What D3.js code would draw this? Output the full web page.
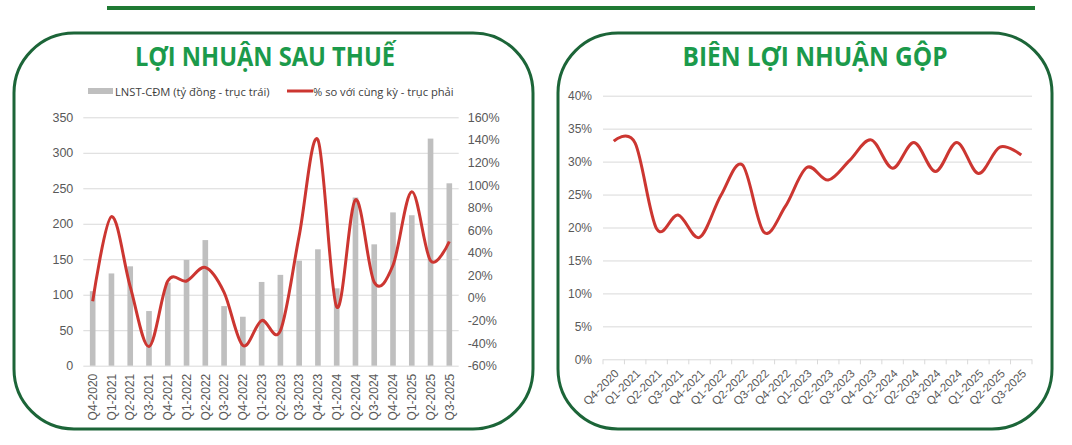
<!DOCTYPE html>
<html>
<head>
<meta charset="utf-8">
<script src="https://cdn.jsdelivr.net/npm/d3@7"></script>
<style>
  body { margin: 0; background: #fff; }
  svg { display: block; font-family: 'Open Sans', sans-serif; }
  .tick text { fill: #595959; font-size: 12px; }
</style>
</head>
<body>
<svg width="1072" height="445"></svg>
<script>
// quarters shown on both charts
const categories = ['Q4-2020', 'Q1-2021', 'Q2-2021', 'Q3-2021', 'Q4-2021', 'Q1-2022', 'Q2-2022',
  'Q3-2022', 'Q4-2022', 'Q1-2023', 'Q2-2023', 'Q3-2023', 'Q4-2023', 'Q1-2024', 'Q2-2024',
  'Q3-2024', 'Q4-2024', 'Q1-2025', 'Q2-2025', 'Q3-2025'];

// LNST-CĐM (tỷ đồng)
const profit = [105, 130, 140, 77, 117, 149, 177, 84, 69, 118, 128, 148, 164, 109, 237, 171, 216, 212, 320, 257];
// % so với cùng kỳ
const profitYoY = [-3, 72, 10, -43, 15, 15, 27, 5, -42, -20, -29, 55, 140, -8, 87, 14, 29, 94, 33, 50];
// biên lợi nhuận gộp (%)
const grossMargin = [33.1, 32.8, 19.8, 21.9, 18.5, 24.9, 29.5, 19.3, 23.2, 29.1, 27.2, 30.2, 33.3, 29.0, 32.9, 28.5, 32.9, 28.2, 32.2, 31.0];

const leftTicks = [0, 50, 100, 150, 200, 250, 300, 350];
const rightTicks = [-60, -40, -20, 0, 20, 40, 60, 80, 100, 120, 140, 160];
const marginTicks = [0, 5, 10, 15, 20, 25, 30, 35, 40];

const svg = d3.select('svg');
const green = '#1b9a4b';
const frameColor = '#1c6538';
const red = '#cc3631';

// top rule
svg.append('line')
  .attr('x1', 107).attr('x2', 1035)
  .attr('y1', 8).attr('y2', 8)
  .attr('stroke', '#1f7a33')
  .attr('stroke-width', 4);

// panel frames
const panels = [
  { x: 14, y: 33, w: 519, h: 396, title: 'LỢI NHUẬN SAU THUẾ', cx: 265, tw: 260 },
  { x: 558, y: 33, w: 494, h: 396, title: 'BIÊN LỢI NHUẬN GỘP', cx: 815, tw: 265 }
];
panels.forEach(p => {
  svg.append('rect')
    .attr('x', p.x).attr('y', p.y)
    .attr('width', p.w).attr('height', p.h)
    .attr('rx', 60).attr('ry', 60)
    .attr('fill', 'none')
    .attr('stroke', frameColor)
    .attr('stroke-width', 3);
  svg.append('text')
    .attr('x', p.cx)
    .attr('y', 66)
    .attr('text-anchor', 'middle')
    .attr('fill', green)
    .attr('font-size', 27.5)
    .attr('font-weight', 700)
    .attr('textLength', p.tw)
    .attr('lengthAdjust', 'spacingAndGlyphs')
    .text(p.title);
});

// ---------- left chart: profit bars + yoy line ----------
const lx0 = 83.3, lx1 = 458.7, ly0 = 365.7, ly1 = 117.3;

const xL = d3.scaleBand()
  .domain(categories)
  .range([lx0, lx1])
  .paddingInner(0.7)
  .paddingOuter(0.35);

const yL = d3.scaleLinear().domain([0, 350]).range([ly0, ly1]);
const yR = d3.scaleLinear().domain([-60, 160]).range([ly0, ly1]);

const gridL = svg.append('g')
  .attr('transform', `translate(${lx0},0)`)
  .call(d3.axisLeft(yL).tickValues(leftTicks).tickSize(-(lx1 - lx0)).tickPadding(10));
gridL.select('.domain').remove();
gridL.selectAll('.tick line').attr('stroke', '#d9d9d9');
gridL.selectAll('.tick text').style('font-size', '12.5px');

const axisR = svg.append('g')
  .attr('transform', `translate(${lx1},0)`)
  .call(d3.axisRight(yR).tickValues(rightTicks).tickSize(0).tickPadding(9).tickFormat(d => d + '%'));
axisR.select('.domain').remove();
axisR.selectAll('.tick text').style('font-size', '12.5px');

svg.append('g')
  .selectAll('rect')
  .data(profit)
  .join('rect')
  .attr('x', (d, i) => xL(categories[i]))
  .attr('y', d => yL(d))
  .attr('width', xL.bandwidth())
  .attr('height', d => ly0 - yL(d))
  .attr('fill', '#bfbfbf');

const xAxisL = svg.append('g')
  .attr('transform', `translate(0,${ly0})`)
  .call(d3.axisBottom(xL).tickSize(0));
xAxisL.select('.domain').remove();
xAxisL.selectAll('.tick text')
  .attr('transform', 'rotate(-90)')
  .attr('text-anchor', 'end')
  .attr('x', -8)
  .attr('y', 0)
  .attr('dy', '0.35em');

const yoyLine = d3.line()
  .x((d, i) => xL(categories[i]) + xL.bandwidth() / 2)
  .y(d => yR(d))
  .curve(d3.curveCatmullRom.alpha(0));

svg.append('path')
  .attr('d', yoyLine(profitYoY))
  .attr('fill', 'none')
  .attr('stroke', red)
  .attr('stroke-width', 3);

// legend
const legend = svg.append('g').attr('font-size', 11.2).attr('fill', '#404040');
legend.append('rect')
  .attr('x', 88).attr('y', 88).attr('width', 25).attr('height', 6)
  .attr('fill', '#bfbfbf');
legend.append('text')
  .attr('x', 115).attr('y', 95.5)
  .text('LNST-CĐM (tỷ đồng - trục trái)');
legend.append('line')
  .attr('x1', 287).attr('x2', 313).attr('y1', 91).attr('y2', 91)
  .attr('stroke', red).attr('stroke-width', 3);
legend.append('text')
  .attr('x', 313).attr('y', 95.5)
  .text('% so với cùng kỳ - trục phải');

// ---------- right chart: gross margin ----------
const rx0 = 603, rx1 = 1032, ry0 = 359.3, ry1 = 95.7;

const xM = d3.scaleBand().domain(categories).range([rx0, rx1]);
const yM = d3.scaleLinear().domain([0, 40]).range([ry0, ry1]);

const gridM = svg.append('g')
  .attr('transform', `translate(${rx0},0)`)
  .call(d3.axisLeft(yM).tickValues(marginTicks).tickSize(-(rx1 - rx0)).tickPadding(11).tickFormat(d => d + '%'));
gridM.select('.domain').remove();
gridM.selectAll('.tick line').attr('stroke', '#d9d9d9');

// category boundary ticks below the axis
svg.append('g')
  .selectAll('line')
  .data(categories.concat(['end']))
  .join('line')
  .attr('x1', (d, i) => i < categories.length ? xM(d) : rx1)
  .attr('x2', (d, i) => i < categories.length ? xM(d) : rx1)
  .attr('y1', ry0)
  .attr('y2', ry0 + 5)
  .attr('stroke', '#d9d9d9');

const xAxisM = svg.append('g')
  .attr('transform', `translate(0,${ry0})`)
  .call(d3.axisBottom(xM).tickSize(0));
xAxisM.select('.domain').remove();
xAxisM.selectAll('.tick text')
  .attr('transform', 'translate(3,12) rotate(-45)')
  .attr('text-anchor', 'end')
  .attr('x', 0)
  .attr('y', 0)
  .attr('dy', '0.35em')
  .style('font-size', '11.5px');

const marginLine = d3.line()
  .x((d, i) => xM(categories[i]) + xM.bandwidth() / 2)
  .y(d => yM(d))
  .curve(d3.curveCatmullRom.alpha(0));

svg.append('path')
  .attr('d', marginLine(grossMargin))
  .attr('fill', 'none')
  .attr('stroke', red)
  .attr('stroke-width', 3);
</script>
</body>
</html>
